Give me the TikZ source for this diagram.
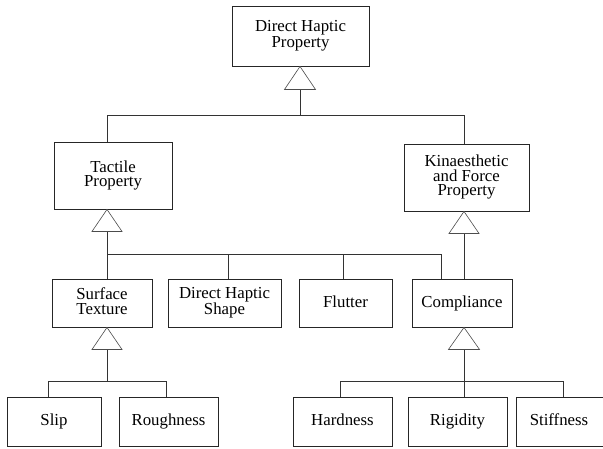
\documentclass[tikz,border=0pt]{standalone}
\usepackage{fontspec}
\setmainfont{Liberation Serif}
\newcommand{\topstrut}{\rule{0pt}{12pt}}
\newcommand{\botstrut}{\rule[-4pt]{0pt}{4pt}}
\begin{document}
\begin{tikzpicture}[x=1pt,y=-1pt,
  box/.style={draw=black!85, line width=0.9pt, align=center, inner sep=0pt,
    font=\fontsize{16.8}{14.5}\selectfont, text=black,
    execute at begin node=\topstrut, execute at end node=\botstrut},
  wire/.style={draw=black!80, line width=0.9pt},
  tri/.style={draw=black!70, line width=0.6pt, fill=white}]
\clip (0,0) rectangle (603,448);
\fill[white] (0,0) rectangle (603,448);

% columns used by the connectors
\coordinate (cTop) at (300,0);
\coordinate (cTac) at (107,0);
\coordinate (cKin) at (464,0);
\coordinate (cDhs) at (228,0);
\coordinate (cFlu) at (343,0);
\coordinate (cCom) at (441,0);
\coordinate (cSlip) at (48,0);
\coordinate (cRough) at (166,0);
\coordinate (cHard) at (340,0);
\coordinate (cStiff) at (563,0);

% boxes
\node[box, minimum width=137, minimum height=60] (dhp) at (300.5,36) {Direct Haptic\\Property};
\node[box, minimum width=118, minimum height=67] (tac) at (113,175.5) {Tactile\\Property};
\node[box, minimum width=125, minimum height=67] (kin) at (466.5,177.5) {Kinaesthetic\\and Force\\Property};
\node[box, minimum width=100, minimum height=48] (st) at (102,303) {Surface\\Texture};
\node[box, minimum width=113, minimum height=48] (dhs) at (224.5,303) {Direct Haptic\\Shape};
\node[box, minimum width=93, minimum height=48] (flu) at (345.5,303) {Flutter};
\node[box, minimum width=100, minimum height=48] (com) at (462,303) {Compliance};
\node[box, minimum width=94, minimum height=49] (slip) at (54,421.5) {Slip};
\node[box, minimum width=99, minimum height=49] (rough) at (168.5,421.5) {Roughness};
\node[box, minimum width=99, minimum height=49] (hard) at (342.5,421.5) {Hardness};
\node[box, minimum width=99, minimum height=49] (rig) at (457.5,421.5) {Rigidity};
\node[box, minimum width=100, minimum height=49] (stiff) at (566,421.5) {Stiffness\hspace{14pt}};

% top level: Direct Haptic Property
\coordinate (b1) at (0,115);
\path[wire] (dhp.south -| cTop) ++(0,23) -- (b1 -| cTop);
\path[wire] (tac.north -| cTac) -- (b1 -| cTac) -- (b1 -| cKin) -- (kin.north -| cKin);
\draw[tri] (dhp.south -| cTop) -- ++(-15.5,23) -- ++(31,0) -- cycle;

% tactile property children
\coordinate (b2) at (0,254);
\path[wire] (tac.south -| cTac) ++(0,22) -- (st.north -| cTac);
\path[wire] (b2 -| cTac) -- (b2 -| cCom) -- (com.north -| cCom);
\path[wire] (b2 -| cDhs) -- (dhs.north -| cDhs);
\path[wire] (b2 -| cFlu) -- (flu.north -| cFlu);
\draw[tri] (tac.south -| cTac) -- ++(-15,22) -- ++(30,0) -- cycle;

% kinaesthetic property child
\path[wire] (kin.south -| cKin) ++(0,22) -- (com.north -| cKin);
\draw[tri] (kin.south -| cKin) -- ++(-15,22) -- ++(30,0) -- cycle;

% surface texture children
\coordinate (b3) at (0,381);
\path[wire] (st.south -| cTac) ++(0,22) -- (b3 -| cTac);
\path[wire] (slip.north -| cSlip) -- (b3 -| cSlip) -- (b3 -| cRough) -- (rough.north -| cRough);
\draw[tri] (st.south -| cTac) -- ++(-15,22) -- ++(30,0) -- cycle;

% compliance children
\path[wire] (com.south -| cKin) ++(0,22) -- (rig.north -| cKin);
\path[wire] (hard.north -| cHard) -- (b3 -| cHard) -- (b3 -| cStiff) -- (stiff.north -| cStiff);
\draw[tri] (com.south -| cKin) -- ++(-15.5,22) -- ++(31,0) -- cycle;
\end{tikzpicture}
\end{document}
